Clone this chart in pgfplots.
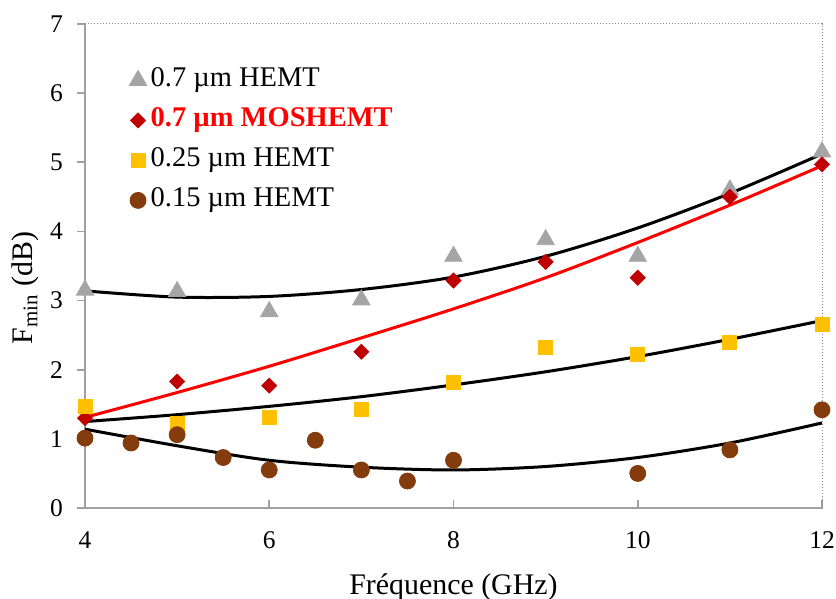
\documentclass[border=0pt]{standalone}
\usepackage{fontspec}
\setmainfont{Liberation Serif}
\usepackage{pgfplots}
\pgfplotsset{compat=1.18}
\definecolor{triG}{HTML}{A5A5A5}
\definecolor{diaR}{HTML}{C00000}
\definecolor{sqY}{HTML}{FFC000}
\definecolor{cirB}{HTML}{843C0C}
\definecolor{axG}{HTML}{A0A0A0}
\definecolor{boxG}{HTML}{8C8C8C}
\begin{document}
\begin{tikzpicture}
\begin{axis}[
  scale only axis, width=368.5bp, height=242bp,
  xmin=4, xmax=12, ymin=0, ymax=7,
  xtick={4,6,8,10,12}, ytick={0,1,2,3,4,5,6,7},
  xtick pos=bottom, ytick pos=left,
  tick align=inside, major tick length=4bp,
  tick style={axG, line width=0.8bp},
  y tick style={xshift=-4bp},
  axis line style={draw=none},
  clip=false,
  /pgf/number format/assume math mode=true,
  ticklabel style={font=\fontsize{12.8}{15}\selectfont},
  yticklabel style={xshift=-7.5bp},
  xticklabel style={yshift=-8.5bp},
  xlabel={Fréquence (GHz)},
  ylabel={F\textsubscript{min} (dB)},
  label style={font=\fontsize{15}{18}\selectfont},
  xlabel style={at={(axis description cs:0.5,-0.1777)}, anchor=base},
  ylabel style={at={(axis description cs:-0.0706,0.4545)}, anchor=base},
  legend cell align=left,
  legend image code/.code={\draw[mark repeat=2,mark phase=2,#1] plot coordinates {(0bp,0bp) (4bp,0bp) (8bp,0bp)};},
  legend style={at={(rel axis cs:0,1)}, anchor=north west, xshift=22bp, yshift=-21bp,
    draw=none, fill=none, inner sep=0pt, row sep=6bp, column sep=2bp,
    font=\fontsize{14.3}{16}\selectfont,
    nodes={inner sep=0pt, text height=10bp, text depth=4bp}},
]
\coordinate (LL) at (rel axis cs:0,0);
\coordinate (UR) at (rel axis cs:1,1);
\draw[axG, line width=1bp] (rel axis cs:0,1) -- (rel axis cs:0,0) -- (rel axis cs:1,0);
\draw[boxG, densely dotted, line width=0.5bp] (rel axis cs:0,1) -- (rel axis cs:1,1) -- (rel axis cs:1,0);

% trend lines
\addplot[black, line width=1.5bp, smooth, forget plot] coordinates {
 (4,3.14) (5,3.05) (6,3.06) (7,3.16) (8,3.34) (9,3.64) (10,4.05) (11,4.55) (12,5.12)};
\addplot[red, line width=1.5bp, smooth, forget plot] coordinates {
 (4,1.31) (5,1.67) (6,2.05) (7,2.46) (8,2.88) (9,3.33) (10,3.84) (11,4.38) (12,4.95)};
\addplot[black, line width=1.5bp, smooth, forget plot] coordinates {
 (4,1.25) (5,1.35) (6,1.47) (7,1.61) (8,1.78) (9,1.97) (10,2.19) (11,2.44) (12,2.71)};
\addplot[black, line width=1.5bp, smooth, forget plot] coordinates {
 (4,1.14) (5,0.90) (6,0.69) (7,0.59) (8,0.55) (9,0.60) (10,0.73) (11,0.94) (12,1.23)};

% data
\addplot[only marks, mark=triangle*, mark size=5bp, mark options={fill=triG, draw=triG}] coordinates {
 (4,3.15) (5,3.13) (6,2.84) (7,3.01) (8,3.64) (9,3.88) (10,3.64) (11,4.60) (12,5.15)};
\addlegendentry{0.7 µm HEMT}
\addplot[only marks, mark=square*, mark size=2.65bp, mark options={rotate=45, fill=diaR, draw=diaR}] coordinates {
 (4,1.30) (5,1.83) (6,1.77) (7,2.26) (8,3.29) (9,3.56) (10,3.33) (11,4.50) (12,4.97)};
\addlegendentry{\textcolor{red}{\textbf{0.7 µm MOSHEMT}}}
\addplot[only marks, mark=square*, mark size=3.5bp, mark options={fill=sqY, draw=sqY}] coordinates {
 (4,1.47) (5,1.23) (6,1.31) (7,1.42) (8,1.81) (9,2.32) (10,2.22) (11,2.39) (12,2.65)};
\addlegendentry{0.25 µm HEMT}
\addplot[only marks, mark=*, mark size=4bp, mark options={fill=cirB, draw=cirB}] coordinates {
 (4,1.01) (4.5,0.94) (5,1.06) (5.5,0.73) (6,0.55) (6.5,0.98) (7,0.55) (7.5,0.39) (8,0.69) (10,0.50) (11,0.84) (12,1.42)};
\addlegendentry{0.15 µm HEMT}
\end{axis}
\pgfresetboundingbox
\path[use as bounding box] ([shift={(-42.5bp,-45.5bp)}]LL) rectangle ([shift={(7bp,12bp)}]UR);
\end{tikzpicture}
\end{document}
